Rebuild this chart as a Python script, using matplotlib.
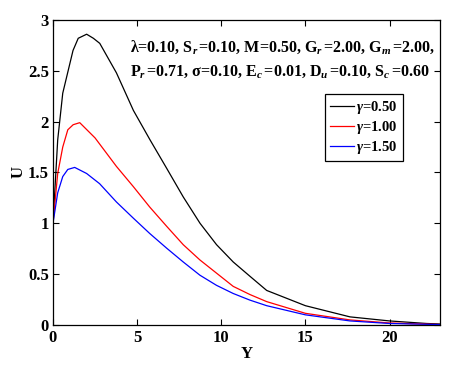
import numpy as np
import matplotlib
matplotlib.use("Agg")
import matplotlib.pyplot as plt

plt.rcParams['font.family'] = ['Liberation Serif', 'DejaVu Serif']
plt.rcParams['font.weight'] = 'bold'
plt.rcParams['mathtext.fontset'] = 'custom'
plt.rcParams['mathtext.rm'] = 'Liberation Serif:bold'
plt.rcParams['mathtext.it'] = 'Liberation Serif:italic:bold'
plt.rcParams['mathtext.bf'] = 'Liberation Serif:bold'

# gamma = 0.50
y_black = [0, 0.28, 0.58, 1.19, 1.5, 2.0, 2.4, 2.78, 3.77, 4.78, 5.77, 6.76,
           7.74, 8.74, 9.72, 10.71, 11.7, 12.7, 15, 17.65, 20, 22.2, 23]
u_black = [1.0, 1.82, 2.28, 2.7, 2.82, 2.86, 2.82, 2.77, 2.48, 2.11, 1.82, 1.54,
           1.26, 1.0, 0.79, 0.62, 0.48, 0.34, 0.19, 0.08, 0.04, 0.015, 0.01]
# gamma = 1.00
y_red = [0, 0.28, 0.58, 0.88, 1.2, 1.59, 2.5, 3.77, 4.78, 5.75, 6.76, 7.74,
         8.73, 9.72, 10.71, 11.7, 12.7, 15, 17.65, 20, 23]
u_red = [1.0, 1.49, 1.75, 1.92, 1.97, 1.99, 1.84, 1.56, 1.36, 1.16, 0.97, 0.79,
         0.64, 0.51, 0.38, 0.30, 0.23, 0.115, 0.05, 0.02, 0.005]
# gamma = 1.50
y_blue = [0, 0.28, 0.58, 0.88, 1.29, 2.0, 2.77, 3.77, 4.78, 5.75, 6.76, 7.74,
          8.73, 9.72, 10.71, 11.7, 12.7, 15, 17.65, 20, 23]
u_blue = [1.0, 1.30, 1.46, 1.53, 1.55, 1.49, 1.39, 1.21, 1.05, 0.90, 0.755, 0.62,
          0.49, 0.39, 0.31, 0.245, 0.19, 0.10, 0.04, 0.015, 0.004]

labels = [r'$\gamma$=0.50', r'$\gamma$=1.00', r'$\gamma$=1.50']

fig = plt.figure(figsize=(4.71, 3.70), dpi=100)
ax = fig.add_axes([0.1125, 0.1216, 0.8217, 0.8244])

ax.plot(y_black, u_black, color='black', lw=0.9, label=labels[0])
ax.plot(y_red, u_red, color='red', lw=0.9, label=labels[1])
ax.plot(y_blue, u_blue, color='blue', lw=0.9, label=labels[2])

ax.set_xlim(0, 23)
ax.set_ylim(0, 3)
ax.set_xticks([0, 5, 10, 15, 20])
ax.set_yticks([0, 0.5, 1, 1.5, 2, 2.5, 3])
ax.set_yticklabels(['0', '0.5', '1', '1.5', '2', '2.5', '3'])
ax.tick_params(direction='in', top=True, right=True, labelsize=12, length=4, width=0.8)
ax.tick_params(axis='y', pad=3)
for lab in ax.get_xticklabels() + ax.get_yticklabels():
    lab.set_fontweight('bold')
for sp in ax.spines.values():
    sp.set_linewidth(0.9)

ax.set_xlabel('Y', fontsize=12, fontweight='bold', labelpad=0)
ax.set_ylabel('U', fontsize=12, fontweight='bold', labelpad=1)

ax.text(0.199, 0.911,
        r'λ=0.10, S$_{\it r}\,$=0.10, M=0.50, G$_{\it r}\,$=2.00, G$_{\it m}\,$=2.00,',
        transform=ax.transAxes, fontsize=11.5, fontweight='bold', va='center', ha='left')
ax.text(0.199, 0.83,
        r'P$_{\it r}\,$=0.71, σ=0.10, E$_{\it c}\,$=0.01, D$_{\it u}\,$=0.10, S$_{\it c}\,$=0.60',
        transform=ax.transAxes, fontsize=11.5, fontweight='bold', va='center', ha='left')

leg = ax.legend(loc='upper left', bbox_to_anchor=(0.703, 0.757), borderaxespad=0,
                fancybox=False, edgecolor='black', framealpha=1,
                handlelength=1.65, handletextpad=0.15, labelspacing=0.2,
                borderpad=0.35, prop={'weight': 'bold', 'size': 10.5})
leg.get_frame().set_linewidth(0.9)

fig.savefig('out.png', dpi=100)
